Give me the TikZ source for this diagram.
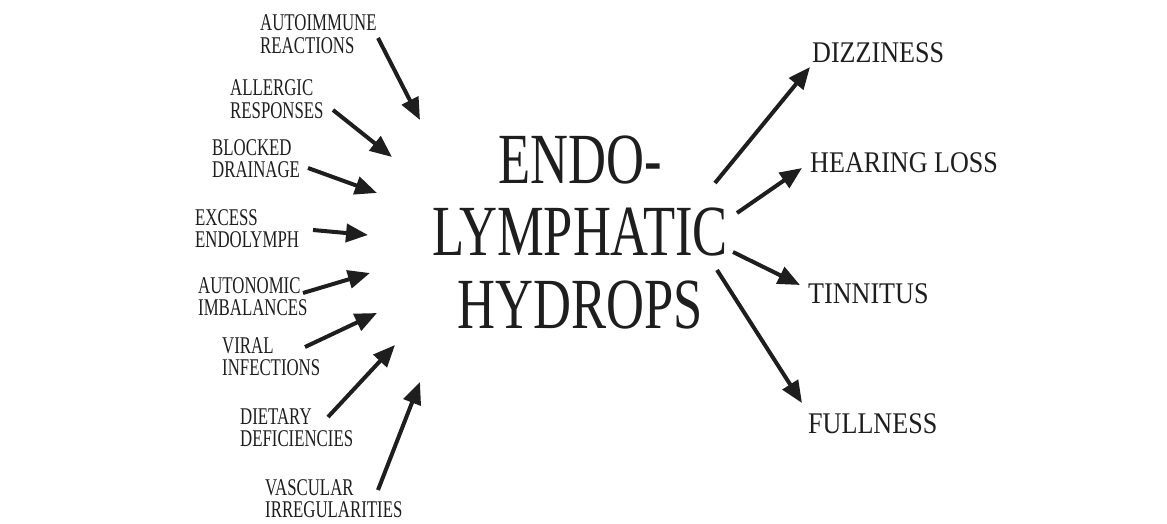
\documentclass[tikz,border=0pt]{standalone}
\usepackage{fontspec}
\setmainfont{Liberation Serif}
\usepackage{graphicx}
\usetikzlibrary{arrows.meta}

\definecolor{ink}{RGB}{30,30,30}
\newcommand{\causetext}[1]{\scalebox{0.7}[1]{\fontsize{24}{22.5}\selectfont\begin{tabular}[t]{@{}l@{}}#1\end{tabular}}}
\newcommand{\effecttext}[1]{\scalebox{0.87}[1]{\fontsize{30}{30}\selectfont #1}}

\begin{document}
\begin{tikzpicture}[x=1pt, y=-1pt,
    cause/.style={anchor=base west, inner sep=0pt, text=ink},
    effect/.style={anchor=base west, inner sep=0pt, text=ink},
    arr/.style={draw=ink, line width=4pt, -{Triangle[length=22pt,width=18pt]}}]
        \useasboundingbox (0,0) rectangle (1167,524);

        % Titolo centrale
        \node[anchor=base, inner sep=0pt, text=ink] (hydrops) at (580, 183)
            {\scalebox{0.73}[1]{\fontsize{72}{72.5}\selectfont\begin{tabular}[t]{@{}c@{}}ENDO-\\LYMPHATIC\\HYDROPS\end{tabular}}};

        % Cause (sinistra)
        \node[cause] (autoimm) at (260, 31) {\causetext{AUTOIMMUNE\\REACTIONS}};
        \node[cause] (allerg) at (230, 96) {\causetext{ALLERGIC\\RESPONSES}};
        \node[cause] (blocked) at (212, 155) {\causetext{BLOCKED\\DRAINAGE}};
        \node[cause] (excess) at (195, 225) {\causetext{EXCESS\\ENDOLYMPH}};
        \node[cause] (autonom) at (198, 293) {\causetext{AUTONOMIC\\IMBALANCES}};
        \node[cause] (viral) at (222, 353) {\causetext{VIRAL\\INFECTIONS}};
        \node[cause] (dietary) at (240, 424) {\causetext{DIETARY\\DEFICIENCIES}};
        \node[cause] (vascular) at (265, 495) {\causetext{VASCULAR\\IRREGULARITIES}};

        % Sintomi (destra)
        \node[effect] (dizzy) at (812, 63) {\effecttext{DIZZINESS}};
        \node[effect] (hearing) at (810, 172) {\effecttext{HEARING LOSS}};
        \node[effect] (tinnitus) at (808, 303) {\effecttext{TINNITUS}};
        \node[effect] (fullness) at (808, 433) {\effecttext{FULLNESS}};

        % Estremi delle frecce
        \coordinate (autoimm-s) at (378, 38);   \coordinate (autoimm-e) at (420, 120);
        \coordinate (allerg-s) at (333, 110);   \coordinate (allerg-e) at (392, 157);
        \coordinate (blocked-s) at (308, 168);  \coordinate (blocked-e) at (377, 193);
        \coordinate (excess-s) at (313, 230);   \coordinate (excess-e) at (368, 235);
        \coordinate (autonom-s) at (303, 293);  \coordinate (autonom-e) at (370, 273);
        \coordinate (viral-s) at (305, 347);    \coordinate (viral-e) at (377, 313);
        \coordinate (dietary-s) at (328, 417);  \coordinate (dietary-e) at (395, 345);
        \coordinate (vascular-s) at (378, 490); \coordinate (vascular-e) at (420, 382);
        \coordinate (dizzy-s) at (715, 183);    \coordinate (dizzy-e) at (810, 67);
        \coordinate (hearing-s) at (737, 213);  \coordinate (hearing-e) at (802, 168);
        \coordinate (tinnitus-s) at (733, 252); \coordinate (tinnitus-e) at (800, 285);
        \coordinate (fullness-s) at (717, 270); \coordinate (fullness-e) at (802, 403);

        % Frecce
        \draw[arr] (autoimm-s) -- (autoimm-e);
        \draw[arr] (allerg-s) -- (allerg-e);
        \draw[arr] (blocked-s) -- (blocked-e);
        \draw[arr] (excess-s) -- (excess-e);
        \draw[arr] (autonom-s) -- (autonom-e);
        \draw[arr] (viral-s) -- (viral-e);
        \draw[arr] (dietary-s) -- (dietary-e);
        \draw[arr] (vascular-s) -- (vascular-e);
        \draw[arr] (dizzy-s) -- (dizzy-e);
        \draw[arr] (hearing-s) -- (hearing-e);
        \draw[arr] (tinnitus-s) -- (tinnitus-e);
        \draw[arr] (fullness-s) -- (fullness-e);
    \end{tikzpicture}
\end{document}
